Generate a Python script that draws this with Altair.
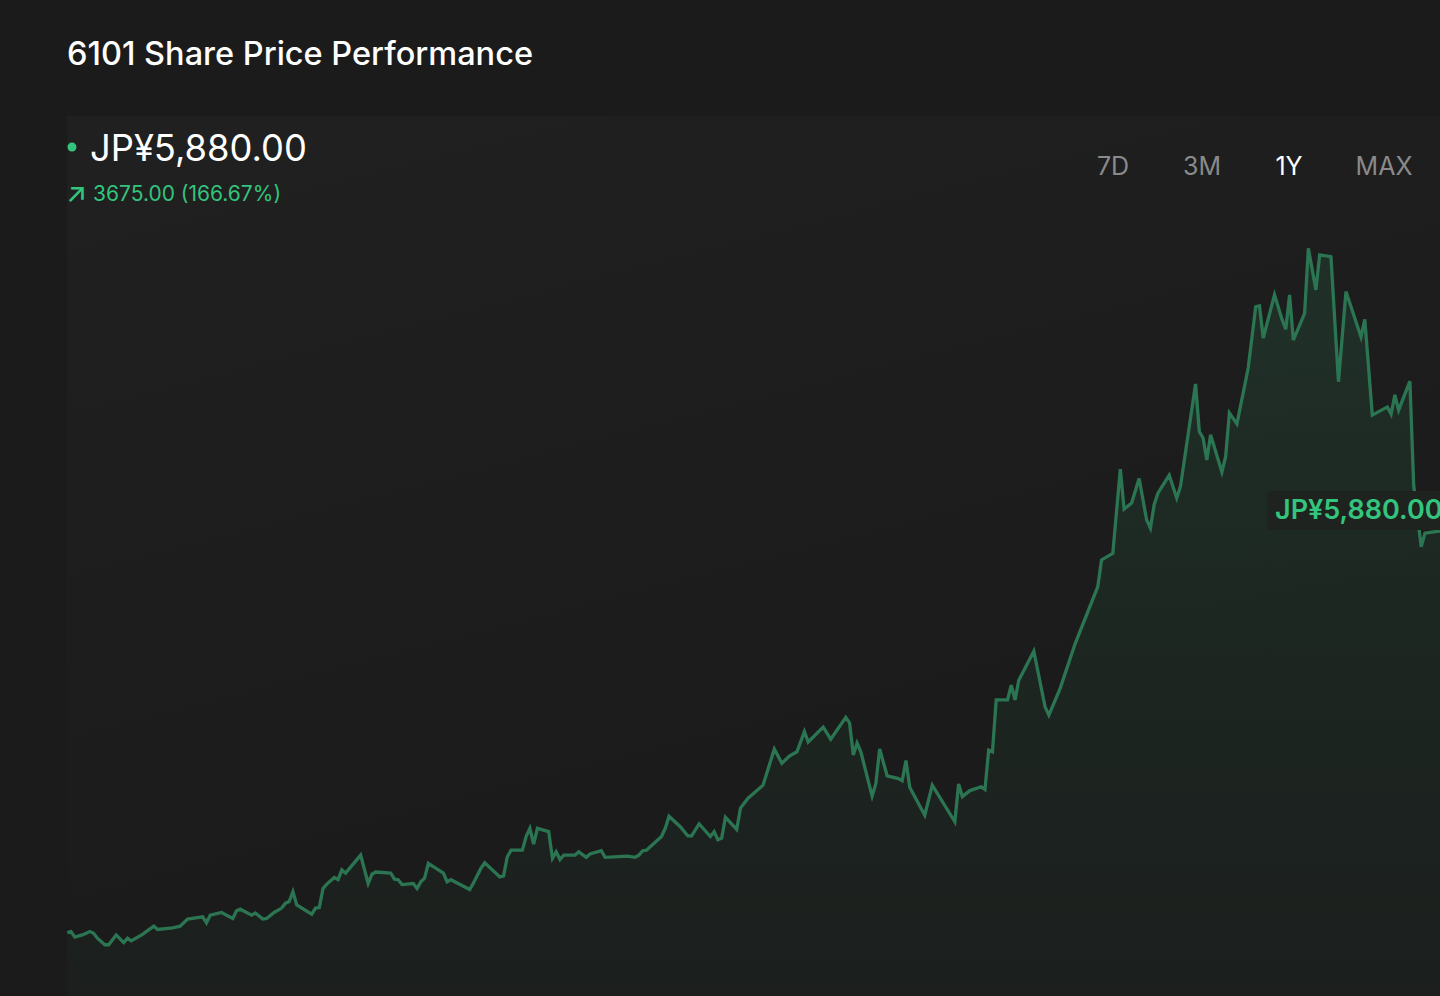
import altair as alt
import pandas as pd
import jinja2

# ---- data (calendar day offset, closing price in JPY) ----
day = [0, 1, 2, 4, 6, 7, 8, 10, 11, 13,
       15, 16, 17, 20, 23, 24, 28, 30, 32, 36,
       37, 38, 41, 44, 45, 46, 49, 50, 52, 53,
       55, 57, 58, 59, 60, 61, 65, 66, 67, 68,
       69, 71, 72, 73, 74, 78, 80, 81, 82, 86,
       87, 88, 89, 92, 93, 94, 95, 96, 100, 101,
       102, 107, 108, 110, 111, 115, 116, 117, 118, 121,
       122, 123, 124, 125, 128, 129, 130, 131, 132, 135,
       136, 138, 139, 142, 143, 149, 151, 152, 153, 154,
       158, 159, 160, 163, 165, 166, 168, 171, 172, 173,
       174, 175, 178, 179, 181, 185, 188, 190, 192, 194,
       196, 197, 201, 203, 207, 208, 209, 210, 211, 214,
       215, 216, 218, 221, 222, 223, 224, 228, 230, 236,
       237, 238, 240, 243, 244, 245, 246, 247, 250, 251,
       252, 253, 257, 260, 261, 264, 268, 274, 275, 278,
       280, 281, 283, 285, 287, 288, 289, 290, 293, 295,
       296, 300, 301, 302, 303, 304, 307, 308, 309, 311,
       314, 316, 317, 318, 321, 323, 324, 325, 326, 329,
       330, 332, 333, 336, 338, 340, 344, 345, 347, 351,
       352, 353, 354, 357, 358, 360, 361, 365]

price = [2205, 2215, 2165, 2185, 2215, 2200, 2155, 2095, 2095, 2185,
         2115, 2155, 2130, 2190, 2265, 2235, 2250, 2265, 2330, 2350,
         2295, 2365, 2390, 2335, 2405, 2420, 2365, 2385, 2330, 2335,
         2390, 2430, 2475, 2490, 2580, 2460, 2375, 2430, 2435, 2610,
         2650, 2710, 2690, 2780, 2750, 2915, 2655, 2740, 2760, 2750,
         2695, 2690, 2645, 2655, 2610, 2670, 2705, 2840, 2750, 2670,
         2690, 2600, 2660, 2795, 2845, 2715, 2725, 2900, 2960, 2960,
         3085, 3160, 3015, 3160, 3130, 2885, 2945, 2875, 2915, 2915,
         2945, 2895, 2925, 2955, 2895, 2905, 2895, 2915, 2955, 2960,
         3085, 3160, 3270, 3175, 3090, 3090, 3200, 3085, 3130, 3055,
         3070, 3260, 3150, 3345, 3435, 3555, 3885, 3755, 3820, 3860,
         4045, 3950, 4085, 3975, 4175, 4125, 3830, 3940, 3860, 3455,
         3570, 3885, 3640, 3615, 3595, 3780, 3535, 3280, 3555, 3220,
         3565, 3450, 3505, 3540, 3515, 3875, 3860, 4335, 4335, 4470,
         4335, 4515, 4780, 4270, 4195, 4440, 4850, 5370, 5615, 5675,
         6445, 6080, 6135, 6360, 5980, 5905, 6120, 6225, 6390, 6180,
         6290, 7225, 6790, 6730, 6530, 6760, 6420, 6560, 6960, 6860,
         7370, 7930, 7940, 7645, 8040, 7815, 7725, 8040, 7625, 7870,
         8465, 8085, 8405, 8390, 7245, 8070, 7655, 7815, 6940, 7015,
         6950, 7125, 6985, 7250, 6300, 5735, 5860, 5880]

ranges = ["7D", "3M", "1Y", "MAX"]
selected_range = "1Y"
ticker = "6101"
currency = "JP¥"

# ---- derived texts ----
last_price = price[-1]
change = last_price - price[0]
pct = change / price[0] * 100
title_text = f"{ticker} Share Price Performance"
price_text = f"{currency}{last_price:,.2f}"
change_text = f"{change:.2f} ({pct:.2f}%)"

df = pd.DataFrame({"day": day, "price": price})
last = df.tail(1).copy()
last["label"] = price_text

# ---- styling ----
BG = "#1b1b1b"
LINE = "#2b7552"
GREEN = "#33c47d"
FONT = "Inter"
W, H = 1440, 996

xs = alt.Scale(domain=[0, 365], range=[67.3, W], nice=False, zero=False)
ys = alt.Scale(domain=[1626, 10737], nice=False, zero=False)

X = alt.X("day:Q", scale=xs, axis=None)
Y = alt.Y("price:Q", scale=ys, axis=None)

one = pd.DataFrame({"k": [0]})

backdrop = alt.Chart(one).mark_rect(
    color=alt.Gradient(
        gradient="linear", x1=0, y1=0, x2=0.4, y2=1,
        stops=[alt.GradientStop(color="rgba(255,255,255,0.022)", offset=0),
               alt.GradientStop(color="rgba(255,255,255,0.0)", offset=0.85)],
    )
).encode(x=alt.value(67), x2=alt.value(W), y=alt.value(116), y2=alt.value(H))

area = alt.Chart(df).mark_area(
    color=alt.Gradient(
        gradient="linear", x1=0, y1=0, x2=0, y2=1,
        stops=[alt.GradientStop(color="rgba(46,165,105,0.14)", offset=0),
               alt.GradientStop(color="rgba(46,165,105,0.0)", offset=1)],
    )
).encode(x=X, y=Y, y2=alt.value(H))

line = alt.Chart(df).mark_line(color=LINE, strokeWidth=3.3).encode(x=X, y=Y)

box = alt.Chart(one).mark_rect(color="#1e231f", cornerRadius=4).encode(
    x=alt.value(1267), x2=alt.value(W + 10), y=alt.value(491), y2=alt.value(530)
)

end_label = alt.Chart(last).mark_text(
    align="left", baseline="middle", dx=-165, dy=-20,
    font=FONT, fontSize=27, fontWeight=600, color=GREEN,
).encode(x=X, y=Y, text="label:N")


def txt(s, x, y, size, color, weight=400, align="left"):
    return alt.Chart(pd.DataFrame({"t": [s]})).mark_text(
        align=align, baseline="middle", font=FONT, fontSize=size,
        fontWeight=weight, color=color,
    ).encode(x=alt.value(x), y=alt.value(y), text="t:N")


title = txt(title_text, 67, 55, 32.5, "#ffffff", 500)
dot = alt.Chart(one).mark_point(filled=True, shape="circle", size=80,
                                color=GREEN, opacity=1).encode(
    x=alt.value(72), y=alt.value(147))
price_lbl = txt(price_text, 90, 150, 36.3, "#ffffff", 400)
arrow = txt("↗", 66, 194, 27, GREEN, 500)
change_lbl = txt(change_text, 93, 195, 21, GREEN, 400)

btn_x = [1113, 1202, 1289, 1384]
buttons = [
    txt(r, bx, 167, 25, "#ffffff" if r == selected_range else "#8a8a8a", 400, "center")
    for r, bx in zip(ranges, btn_x)
]

chart = alt.layer(
    backdrop, area, line, box, end_label, title, dot, price_lbl, arrow, change_lbl, *buttons
).properties(
    width=W, height=H, background=BG, padding=0, autosize="none"
).configure_view(stroke=None)

PAGE = jinja2.Template("""<!DOCTYPE html>
<html>
<head>
  <style>
    html, body { margin: 0; padding: 0; background: #1b1b1b; overflow: hidden; }
    #{{ output_div }} { line-height: 0; }
  </style>
  <script type="text/javascript" src="{{ base_url }}/vega@{{ vega_version }}"></script>
  <script type="text/javascript" src="{{ base_url }}/vega-lite@{{ vegalite_version }}"></script>
  <script type="text/javascript" src="{{ base_url }}/vega-embed@{{ vegaembed_version }}"></script>
</head>
<body>
  <div id="{{ output_div }}"></div>
  <script>
    (function(vegaEmbed) {
      var spec = {{ spec }};
      var embedOpt = {{ embed_options }};
      vegaEmbed("#{{ output_div }}", spec, embedOpt);
    })(vegaEmbed);
  </script>
</body>
</html>
""")

chart.save("out.html", embed_options={"renderer": "svg", "actions": False}, template=PAGE)
